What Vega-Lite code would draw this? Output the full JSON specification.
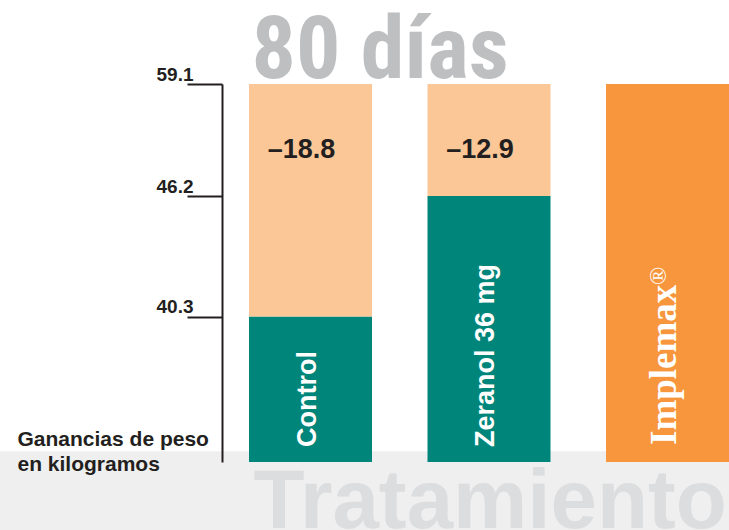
{
  "$schema": "https://vega.github.io/schema/vega-lite/v6.json",
  "width": 729,
  "height": 378,
  "autosize": "none",
  "padding": {"left": 0, "top": 84, "right": 0, "bottom": 68},
  "background": "white",
  "config": {"view": {"stroke": null}},
  "resolve": {"axis": {"x": "independent", "y": "independent"}},
  "layer": [
    {
      "data": {"values": [{"desde": -19, "hasta": 3}]},
      "mark": {"type": "rect", "color": "#efefef"},
      "encoding": {
        "y": {"field": "desde", "type": "quantitative", "scale": {"domain": [0, 40.3, 46.2, 59.1], "range": [378, 232.5, 112, 0], "nice": false, "zero": false}, "axis": null},
        "y2": {"field": "hasta"}
      }
    },
    {
      "data": {"values": [
        {"tratamiento": "Control", "parte": "Ganancia", "desde": 0, "hasta": 40.3},
        {"tratamiento": "Control", "parte": "Diferencia", "desde": 40.3, "hasta": 59.1},
        {"tratamiento": "Zeranol 36 mg", "parte": "Ganancia", "desde": 0, "hasta": 46.2},
        {"tratamiento": "Zeranol 36 mg", "parte": "Diferencia", "desde": 46.2, "hasta": 59.1},
        {"tratamiento": "Implemax®", "parte": "Implemax", "desde": 0, "hasta": 59.1}
      ]},
      "mark": {"type": "bar"},
      "encoding": {
        "x": {
          "field": "tratamiento", "type": "nominal",
          "sort": ["Control", "Zeranol 36 mg", "Implemax®"],
          "scale": {"paddingInner": 0.311, "paddingOuter": 0.6975, "align": 1},
          "axis": {
            "orient": "bottom",
            "title": "Tratamiento", "labels": false, "ticks": false, "domain": false,
            "titleFont": "Liberation Sans", "titleFontWeight": "bold", "titleFontSize": 83.5,
            "titleColor": "#dcdddf", "titleAlign": "left", "titleBaseline": "alphabetic",
            "titleX": 253, "titleY": 65, "zindex": 1
          }
        },
        "y": {
          "field": "desde", "type": "quantitative",
          "scale": {"domain": [0, 40.3, 46.2, 59.1], "range": [378, 232.5, 112, 0], "nice": false, "zero": false},
          "axis": {
            "values": [40.3, 46.2, 59.1], "format": ".1f", "grid": false, "offset": -222,
            "domainColor": "#231f20", "domainWidth": 2, "tickColor": "#231f20", "tickWidth": 2, "tickSize": 35,
            "labelFont": "Liberation Sans", "labelFontWeight": "bold", "labelFontSize": 19, "labelColor": "#231f20",
            "labelAlign": "right", "labelBaseline": "alphabetic", "labelPadding": -6, "labelOffset": -4, "labelOverlap": false,
            "title": ["Ganancias de peso", "en kilogramos"], "titleAngle": 0, "titleAlign": "left", "titleBaseline": "alphabetic",
            "titleX": -205, "titleY": 361, "titleFont": "Liberation Sans", "titleFontWeight": "bold", "titleFontSize": 21,
            "titleColor": "#231f20", "titleLineHeight": 25, "zindex": 1
          }
        },
        "y2": {"field": "hasta"},
        "color": {
          "field": "parte", "type": "nominal",
          "scale": {"domain": ["Ganancia", "Diferencia", "Implemax"], "range": ["#00857a", "#fcc796", "#f7963c"]},
          "legend": null
        }
      }
    },
    {
      "data": {"values": [
        {"tratamiento": "Control", "diferencia": "–18.8"},
        {"tratamiento": "Zeranol 36 mg", "diferencia": "–12.9"}
      ]},
      "mark": {"type": "text", "font": "Liberation Sans", "fontWeight": "bold", "fontSize": 27, "color": "#231f20", "align": "center", "baseline": "alphabetic", "dx": -9, "dy": 74},
      "encoding": {
        "x": {
          "field": "tratamiento", "type": "nominal", "sort": ["Control", "Zeranol 36 mg", "Implemax®"],
          "axis": {
            "orient": "top",
            "title": "80 días", "labels": false, "ticks": false, "domain": false,
            "titleFont": "Roboto Condensed, Liberation Sans", "titleFontWeight": "bold", "titleFontSize": 88,
            "titleColor": "#bdbfc1", "titleAlign": "left", "titleBaseline": "alphabetic",
            "titleX": 251, "titleY": -7, "zindex": 1
          }
        },
        "y": {"datum": 59.1, "type": "quantitative", "scale": {"domain": [0, 40.3, 46.2, 59.1], "range": [378, 232.5, 112, 0], "nice": false, "zero": false}, "axis": null},
        "text": {"field": "diferencia"}
      }
    },
    {
      "data": {"values": [
        {"tratamiento": "Control"},
        {"tratamiento": "Zeranol 36 mg"}
      ]},
      "mark": {"type": "text", "font": "Liberation Sans", "fontWeight": "bold", "fontSize": 27, "color": "white", "angle": 270, "align": "left", "baseline": "alphabetic", "dx": 15, "dy": 5},
      "encoding": {
        "x": {"field": "tratamiento", "type": "nominal", "sort": ["Control", "Zeranol 36 mg", "Implemax®"], "axis": null},
        "y": {"datum": 0, "type": "quantitative", "scale": {"domain": [0, 40.3, 46.2, 59.1], "range": [378, 232.5, 112, 0], "nice": false, "zero": false}, "axis": null},
        "text": {"field": "tratamiento"}
      }
    },
    {
      "data": {"values": [
        {"tratamiento": "Implemax®", "nombre": "Implemax", "marca": "®"}
      ]},
      "layer": [
        {
          "mark": {"type": "text", "font": "Liberation Serif", "fontWeight": "bold", "fontSize": 37, "color": "white", "angle": 270, "align": "left", "baseline": "alphabetic", "dx": 17, "dy": 8.5},
          "encoding": {
            "x": {"field": "tratamiento", "type": "nominal", "sort": ["Control", "Zeranol 36 mg", "Implemax®"], "axis": null},
            "y": {"datum": 0, "type": "quantitative", "scale": {"domain": [0, 40.3, 46.2, 59.1], "range": [378, 232.5, 112, 0], "nice": false, "zero": false}, "axis": null},
            "text": {"field": "nombre"}
          }
        },
        {
          "mark": {"type": "text", "font": "Liberation Serif", "fontWeight": "normal", "fontSize": 24, "color": "white", "angle": 270, "align": "left", "baseline": "alphabetic", "dx": 177, "dy": -1.5},
          "encoding": {
            "x": {"field": "tratamiento", "type": "nominal", "sort": ["Control", "Zeranol 36 mg", "Implemax®"], "axis": null},
            "y": {"datum": 0, "type": "quantitative", "scale": {"domain": [0, 40.3, 46.2, 59.1], "range": [378, 232.5, 112, 0], "nice": false, "zero": false}, "axis": null},
            "text": {"field": "marca"}
          }
        }
      ]
    }
  ]
}
